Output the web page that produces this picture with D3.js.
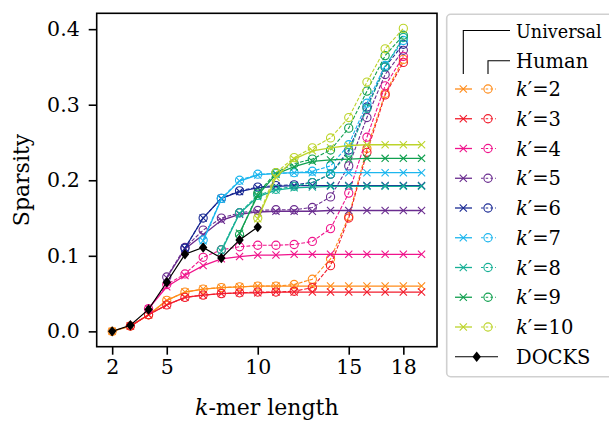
<!DOCTYPE html>
<html>
<head>
<meta charset="utf-8">
<script src="https://cdn.jsdelivr.net/npm/d3@7"></script>
<style>
  body { margin: 0; background: #fff; }
  text { font-family: "DejaVu Serif", serif; fill: #000; }
</style>
</head>
<body>
<svg id="chart" width="609" height="422"></svg>
<script>
// k' values and series colours
const kPrimes = [2, 3, 4, 5, 6, 7, 8, 9, 10];
const colors = ['#ff8c1a', '#f21c2c', '#f0148c', '#6a2c8f', '#1a2a94',
  '#1cb6ee', '#17b096', '#11a050', '#bcd42a'];

// universal series run from k = k' up to 19
const universal = [
  [0, 0.007, 0.022, 0.041, 0.052, 0.056, 0.058, 0.059, 0.060, 0.060, 0.060, 0.060, 0.060, 0.060, 0.060, 0.060, 0.060, 0.060],
  [0.007, 0.022, 0.035, 0.045, 0.048, 0.050, 0.051, 0.051, 0.052, 0.052, 0.052, 0.052, 0.052, 0.052, 0.052, 0.052, 0.052],
  [0.030, 0.059, 0.074, 0.087, 0.096, 0.099, 0.101, 0.101, 0.102, 0.102, 0.102, 0.102, 0.102, 0.102, 0.102, 0.102],
  [0.071, 0.109, 0.128, 0.147, 0.155, 0.158, 0.159, 0.159, 0.159, 0.160, 0.160, 0.160, 0.160, 0.160, 0.160],
  [0.110, 0.150, 0.176, 0.185, 0.190, 0.192, 0.193, 0.193, 0.193, 0.193, 0.193, 0.193, 0.193, 0.193],
  [0.120, 0.175, 0.199, 0.207, 0.209, 0.210, 0.210, 0.210, 0.210, 0.210, 0.210, 0.210, 0.210],
  [0.106, 0.156, 0.178, 0.187, 0.190, 0.191, 0.192, 0.192, 0.192, 0.192, 0.192, 0.192],
  [0.130, 0.180, 0.208, 0.218, 0.225, 0.227, 0.228, 0.229, 0.229, 0.229, 0.229],
  [0.149, 0.204, 0.228, 0.239, 0.243, 0.246, 0.247, 0.247, 0.247, 0.247]
];

// human series run from k = k' up to 18
const human = [
  [0, 0.007, 0.022, 0.041, 0.052, 0.056, 0.058, 0.059, 0.060, 0.060, 0.062, 0.069, 0.096, 0.152, 0.242, 0.315, 0.360],
  [0.007, 0.022, 0.035, 0.045, 0.048, 0.050, 0.051, 0.052, 0.052, 0.053, 0.058, 0.087, 0.150, 0.237, 0.313, 0.356],
  [0.030, 0.062, 0.076, 0.098, 0.108, 0.112, 0.114, 0.114, 0.115, 0.119, 0.136, 0.183, 0.257, 0.325, 0.364],
  [0.072, 0.111, 0.134, 0.150, 0.157, 0.160, 0.161, 0.161, 0.164, 0.178, 0.219, 0.283, 0.340, 0.372],
  [0.110, 0.150, 0.176, 0.186, 0.191, 0.193, 0.194, 0.197, 0.208, 0.240, 0.297, 0.350, 0.380],
  [0.121, 0.176, 0.200, 0.208, 0.209, 0.210, 0.212, 0.219, 0.247, 0.302, 0.352, 0.385],
  [0.108, 0.157, 0.180, 0.188, 0.192, 0.197, 0.208, 0.237, 0.295, 0.350, 0.389],
  [0.128, 0.183, 0.210, 0.222, 0.228, 0.240, 0.269, 0.318, 0.365, 0.392],
  [0.150, 0.210, 0.230, 0.243, 0.256, 0.283, 0.330, 0.374, 0.401]
];

const docksK = [2, 3, 4, 5, 6, 7, 8, 9, 10];
const docks = [0, 0.008, 0.029, 0.065, 0.102, 0.111, 0.097, 0.121, 0.138];

const xTicks = [2, 5, 10, 15, 18];
const yTicks = [0, 0.1, 0.2, 0.3, 0.4];

const svg = d3.select('#chart');
const plot = { left: 96.7, right: 437, top: 13.3, bottom: 346.7 };

const x = d3.scaleLinear().domain([1.15, 19.85]).range([plot.left, plot.right]);
const y = d3.scaleLinear().domain([-0.0203, 0.421]).range([plot.bottom, plot.top]);

const line = d3.line().x(d => x(d[0])).y(d => y(d[1]));

const crossPath = (s) => `M${-s},${-s}L${s},${s}M${-s},${s}L${s},${-s}`;

const drawCross = (g, cx, cy, color) => {
  g.append('path')
  .attr('d', crossPath(3.6))
  .attr('transform', `translate(${cx},${cy})`)
  .attr('stroke', color)
  .attr('stroke-width', 1.1)
  .attr('fill', 'none');
};

const drawCircle = (g, cx, cy, color) => {
  g.append('circle')
  .attr('cx', cx)
  .attr('cy', cy)
  .attr('r', 4.1)
  .attr('stroke', color)
  .attr('stroke-width', 1.1)
  .attr('fill', 'none');
};

const drawDiamond = (g, cx, cy) => {
  g.append('path')
  .attr('d', 'M0,-5.2L4.2,0L0,5.2L-4.2,0Z')
  .attr('transform', `translate(${cx},${cy})`)
  .attr('fill', '#000');
};

const marks = svg.append('g')
  .attr('clip-path', 'url(#plot-clip)');

svg.append('clipPath')
  .attr('id', 'plot-clip')
  .append('rect')
  .attr('x', plot.left)
  .attr('y', plot.top)
  .attr('width', plot.right - plot.left)
  .attr('height', plot.bottom - plot.top);

kPrimes.forEach((kp, i) => {
  let uni = universal[i].map((v, j) => [kp + j, v]);
  let hum = human[i].map((v, j) => [kp + j, v]);

  marks.append('path')
  .attr('d', line(uni))
  .attr('stroke', colors[i])
  .attr('stroke-width', 1.3)
  .attr('fill', 'none');

  uni.forEach(d => drawCross(marks, x(d[0]), y(d[1]), colors[i]));

  marks.append('path')
  .attr('d', line(hum))
  .attr('stroke', colors[i])
  .attr('stroke-width', 1.1)
  .attr('stroke-dasharray', '3.8,1.7')
  .attr('fill', 'none');

  hum.forEach(d => drawCircle(marks, x(d[0]), y(d[1]), colors[i]));
});

let docksPts = docks.map((v, j) => [docksK[j], v]);
marks.append('path')
  .attr('d', line(docksPts))
  .attr('stroke', '#000')
  .attr('stroke-width', 1.2)
  .attr('fill', 'none');
docksPts.forEach(d => drawDiamond(marks, x(d[0]), y(d[1])));

// frame
svg.append('rect')
  .attr('x', plot.left)
  .attr('y', plot.top)
  .attr('width', plot.right - plot.left)
  .attr('height', plot.bottom - plot.top)
  .attr('fill', 'none')
  .attr('stroke', '#000')
  .attr('stroke-width', 1.6);

// axes
const xAxis = d3.axisBottom(x).tickValues(xTicks).tickSize(8).tickPadding(5)
  .tickFormat(d3.format('d'));
const yAxis = d3.axisLeft(y).tickValues(yTicks).tickSize(8).tickPadding(9)
  .tickFormat(d3.format('.1f'));

const gx = svg.append('g')
  .attr('transform', `translate(0,${plot.bottom})`)
  .call(xAxis);
const gy = svg.append('g')
  .attr('transform', `translate(${plot.left},0)`)
  .call(yAxis);

[gx, gy].forEach(g => {
  g.select('.domain').remove();
  g.selectAll('line').attr('stroke', '#000').attr('stroke-width', 1.6);
  g.selectAll('text')
  .attr('font-family', '"DejaVu Serif", serif')
  .attr('font-size', 20.5)
  .attr('fill', '#000');
});

svg.append('text')
  .attr('x', (plot.left + plot.right) / 2)
  .attr('y', 415)
  .attr('text-anchor', 'middle')
  .attr('font-size', 22)
  .html('<tspan font-style="italic">k</tspan>-mer length');

svg.append('text')
  .attr('transform', `translate(29,${(plot.top + plot.bottom) / 2}) rotate(-90)`)
  .attr('text-anchor', 'middle')
  .attr('font-size', 22)
  .text('Sparsity');

// legend
const legend = svg.append('g');

legend.append('rect')
  .attr('x', 446.7)
  .attr('y', 14.3)
  .attr('width', 180)
  .attr('height', 362.4)
  .attr('rx', 4)
  .attr('fill', '#fff')
  .attr('stroke', '#d0d0d0')
  .attr('stroke-width', 1.6);

const uniX = 463.3;
const humX = 488;
const textX = 516;

legend.append('path')
  .attr('d', `M${uniX},74V30.5H510`)
  .attr('stroke', '#000')
  .attr('stroke-width', 1.1)
  .attr('fill', 'none');
legend.append('path')
  .attr('d', `M${humX},74V60.7H510`)
  .attr('stroke', '#000')
  .attr('stroke-width', 1.1)
  .attr('fill', 'none');

legend.append('text')
  .attr('x', textX)
  .attr('y', 37.5)
  .attr('font-size', 17.6)
  .text('Universal');
legend.append('text')
  .attr('x', textX)
  .attr('y', 67.7)
  .attr('font-size', 19.5)
  .text('Human');

kPrimes.forEach((kp, i) => {
  let cy = 89 + i * 29.75;

  legend.append('line')
  .attr('x1', 455).attr('x2', 472)
  .attr('y1', cy).attr('y2', cy)
  .attr('stroke', colors[i])
  .attr('stroke-width', 1.3);
  drawCross(legend, uniX, cy, colors[i]);

  legend.append('line')
  .attr('x1', 481).attr('x2', 496)
  .attr('y1', cy).attr('y2', cy)
  .attr('stroke', colors[i])
  .attr('stroke-width', 1.1)
  .attr('stroke-dasharray', '2.5,2.2');
  drawCircle(legend, humX, cy, colors[i]);

  legend.append('text')
  .attr('x', textX)
  .attr('y', cy + 7)
  .attr('font-size', 19.5)
  .html(`<tspan font-style="italic">k</tspan>′=${kp}`);
});

let docksY = 89 + 9 * 29.75;
legend.append('line')
  .attr('x1', 455).attr('x2', 498)
  .attr('y1', docksY).attr('y2', docksY)
  .attr('stroke', '#000')
  .attr('stroke-width', 1.2);
drawDiamond(legend, 476.7, docksY);
legend.append('text')
  .attr('x', textX)
  .attr('y', docksY + 7)
  .attr('font-size', 19.5)
  .text('DOCKS');
</script>
</body>
</html>
